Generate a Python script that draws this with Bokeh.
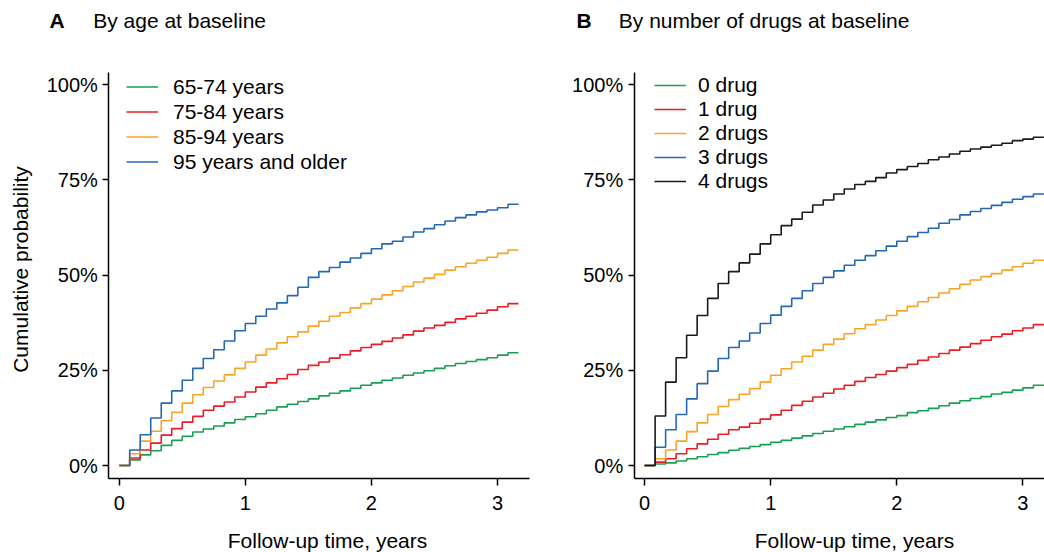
import math
from bokeh.plotting import figure
from bokeh.models import Range1d, FixedTicker, PrintfTickFormatter, Legend, LegendItem, Label
from bokeh.layouts import row
from bokeh.embed import file_html
from bokeh.resources import INLINE
from bokeh.core.properties import value

# ---------------- data (cumulative probability, %) ----------------
months = [0, 1, 2, 3, 4, 5, 6, 7, 8, 9, 10, 11, 12, 13, 14, 15, 16, 17, 18, 19,
          20, 21, 22, 23, 24, 25, 26, 27, 28, 29, 30, 31, 32, 33, 34, 35, 36, 37, 38]

age_groups = ["65-74 years", "75-84 years", "85-94 years", "95 years and older"]
age_65_74 = [0, 1.5, 2.8, 3.9, 5.3, 6.6, 7.7, 8.8, 9.6, 10.4, 11.2, 12.1, 12.8, 13.6, 14.5,
             15.4, 16.1, 16.8, 17.5, 18.3, 19.0, 19.6, 20.3, 21.1, 21.7, 22.4, 23.0, 23.7,
             24.3, 24.9, 25.5, 26.2, 26.8, 27.3, 27.8, 28.3, 29.0, 29.6]
age_75_84 = [0, 2.0, 4.1, 5.9, 8.0, 9.7, 11.4, 12.9, 14.5, 15.6, 16.7, 18.0, 19.3, 20.6, 21.7,
             22.8, 23.9, 25.2, 26.3, 27.2, 28.2, 29.1, 30.1, 31.0, 31.8, 32.6, 33.5, 34.3,
             35.3, 36.1, 36.8, 37.6, 38.5, 39.2, 40.0, 40.8, 41.7, 42.5]
age_85_94 = [0, 3.1, 6.4, 9.0, 11.8, 14.0, 16.4, 18.6, 20.5, 22.2, 23.8, 25.5, 27.2, 29.0, 30.6,
             32.2, 33.8, 35.1, 36.6, 37.9, 39.2, 40.2, 41.4, 42.5, 43.7, 44.8, 45.9, 47.0,
             48.2, 49.2, 50.2, 51.3, 52.2, 53.1, 53.9, 54.7, 55.7, 56.6]
age_95_up = [0, 4.1, 8.1, 12.5, 16.4, 19.6, 22.4, 25.5, 28.1, 30.4, 32.7, 35.4, 37.3, 39.2, 41.1,
             42.7, 44.6, 46.8, 49.4, 50.9, 52.0, 53.4, 54.5, 55.7, 56.9, 58.2, 58.9, 60.0,
             61.3, 62.2, 63.2, 64.2, 65.1, 65.8, 66.6, 67.1, 67.7, 68.6]

drug_groups = ["0 drug", "1 drug", "2 drugs", "3 drugs", "4 drugs"]
drugs_0 = [0, 0.4, 0.7, 1.2, 1.8, 2.3, 2.9, 3.4, 4.0, 4.5, 5.0, 5.5, 6.1, 6.6, 7.2, 7.8, 8.4,
           9.0, 9.6, 10.2, 10.8, 11.4, 12.0, 12.6, 13.1, 13.9, 14.4, 15.0, 15.7, 16.4, 17.0,
           17.6, 18.1, 18.8, 19.2, 19.8, 20.4, 21.1]
drugs_1 = [0, 0.9, 1.8, 3.1, 4.4, 5.7, 6.9, 8.2, 9.4, 10.1, 11.1, 12.2, 13.3, 14.5, 15.8, 16.9,
           18.0, 19.0, 20.1, 21.1, 22.1, 23.1, 23.9, 24.8, 25.7, 26.6, 27.6, 28.5, 29.4, 30.3,
           31.1, 32.0, 32.9, 33.8, 34.5, 35.4, 36.1, 37.0]
drugs_2 = [0, 1.8, 4.1, 6.4, 8.9, 11.2, 13.4, 15.5, 17.3, 18.7, 20.2, 21.9, 23.7, 25.4, 27.2,
           28.7, 30.3, 31.8, 33.2, 34.6, 35.9, 37.0, 38.2, 39.4, 40.6, 41.8, 43.0, 44.1, 45.3,
           46.4, 47.6, 48.7, 49.6, 50.4, 51.3, 52.2, 53.1, 53.9]
drugs_3 = [0, 4.8, 9.4, 13.4, 17.5, 21.5, 24.8, 28.1, 31.0, 32.7, 34.8, 37.3, 39.5, 41.8, 43.9,
           45.9, 47.8, 49.4, 51.1, 52.6, 53.9, 55.1, 56.4, 57.6, 58.9, 60.1, 61.2, 62.3, 63.6,
           64.6, 65.8, 66.7, 67.5, 68.3, 69.1, 69.9, 70.6, 71.3]
drugs_4 = [0, 13.0, 21.9, 28.3, 34.2, 39.4, 43.9, 47.8, 50.9, 53.2, 55.5, 58.2, 60.6, 63.0, 64.7,
           66.5, 68.4, 69.7, 71.3, 72.6, 73.8, 74.6, 75.6, 76.8, 77.7, 78.5, 79.3, 80.3, 81.0,
           81.8, 82.5, 83.1, 83.6, 84.1, 84.6, 85.3, 85.7, 86.2]

x_ticks = [0, 1, 2, 3]
y_ticks = [0, 25, 50, 75, 100]

# ---------------- styling / geometry ----------------
FONT = "Liberation Sans"
COLORS = ["#1a9e4f", "#ec1c24", "#f7a428", "#2468b4", "#1a1a1a"]
PX_PER_YEAR = 126.1      # horizontal scale
PX_PER_PCT = 3.809       # vertical scale
ZERO_PY = 465.05         # page y of 0 %
AX_X = -0.0825           # data x where the y axis sits
AX_Y0, AX_Y1 = -3.4, 103.2   # extent of the y axis line
H = 552
TEXT_SHIFT = 8.5         # label anchor correction (px)

years = [m / 12 for m in months]


def ydat(py):
    return (ZERO_PY - py) / PX_PER_PCT


def make_fig(canvas_left, canvas_w, axis_px, x_axis_end_px):
    def xdat(px):
        return AX_X + (px - axis_px) / PX_PER_YEAR

    p = figure(frame_width=canvas_w, frame_height=H,
               x_range=Range1d(xdat(canvas_left), xdat(canvas_left + canvas_w)),
               y_range=Range1d(ydat(H), ydat(0)),
               output_backend="svg", toolbar_location=None, title=None,
               min_border_left=0, min_border_right=0,
               min_border_top=0, min_border_bottom=0)
    p.outline_line_color = None
    p.xgrid.visible = False
    p.ygrid.visible = False
    p.background_fill_color = "white"
    p.border_fill_color = "white"
    for ax in (p.xaxis[0], p.yaxis[0]):
        ax.axis_line_width = 1.5
        ax.axis_line_color = "black"
        ax.major_tick_line_width = 1.5
        ax.major_tick_line_color = "black"
        ax.major_tick_in = 0
        ax.minor_tick_line_color = None
        ax.major_label_text_font = FONT
        ax.major_label_text_font_size = "20px"
        ax.major_label_text_color = "black"
    p.xaxis.fixed_location = AX_Y0
    p.xaxis.bounds = (AX_X, xdat(x_axis_end_px))
    p.yaxis.fixed_location = AX_X
    p.yaxis.bounds = (AX_Y0, AX_Y1)
    p.xaxis.major_tick_out = 7
    p.yaxis.major_tick_out = 6
    p.xaxis.ticker = FixedTicker(ticks=x_ticks)
    p.yaxis.ticker = FixedTicker(ticks=y_ticks)
    p.yaxis.formatter = PrintfTickFormatter(format="%d%%")
    p.xaxis.major_label_standoff = 10
    p.yaxis.major_label_standoff = 5
    return p, xdat


def add_series(p, names, series, colors):
    items = []
    for name, vals, color in zip(names, series, colors):
        ys = vals + [vals[-1]]
        r = p.step(x=years, y=ys, mode="after", line_color=color, line_width=1.6)
        items.append(LegendItem(label=value(name), renderers=[r]))
    return items


def add_legend(p, items, x, y, row_h, standoff):
    leg = Legend(items=items, location=(x, y), orientation="vertical",
                 glyph_width=32, glyph_height=row_h, label_height=row_h,
                 spacing=0, padding=0, margin=0, label_standoff=standoff,
                 border_line_color=None, background_fill_alpha=0,
                 label_text_font=FONT, label_text_font_size="21px",
                 label_text_color="black")
    p.add_layout(leg, "center")


def text(p, x, y, s, bold=False, align="left", angle=0.0):
    p.add_layout(Label(x=x, y=y, text=s, angle=angle,
                       text_font=FONT, text_font_size="21px",
                       text_font_style="bold" if bold else "normal",
                       text_align=align, text_baseline="alphabetic",
                       text_color="black"))


TITLE_BASE = 28.3 - TEXT_SHIFT
XLABEL_BASE = 548.5 - TEXT_SHIFT

# Panel A
pa, xa = make_fig(0, 560, 108.3, 529)
items_a = add_series(pa, age_groups, [age_65_74, age_75_84, age_85_94, age_95_up], COLORS[:4])
add_legend(pa, items_a, 126, H - 174, 25, 15)
text(pa, xa(49), ydat(TITLE_BASE), "A", bold=True)
text(pa, xa(92.7), ydat(TITLE_BASE), "By age at baseline")
text(pa, xa(327), ydat(XLABEL_BASE), "Follow-up time, years", align="center")
text(pa, xa(28 - TEXT_SHIFT), ydat(269), "Cumulative probability", align="center",
     angle=math.pi / 2)

# Panel B
pb, xb = make_fig(560, 484, 633.7, 1044)
items_b = add_series(pb, drug_groups, [drugs_0, drugs_1, drugs_2, drugs_3, drugs_4], COLORS)
add_legend(pb, items_b, 94, H - 193, 24, 12)
text(pb, xb(576), ydat(TITLE_BASE), "B", bold=True)
text(pb, xb(618.3), ydat(TITLE_BASE), "By number of drugs at baseline")
text(pb, xb(854), ydat(XLABEL_BASE), "Follow-up time, years", align="center")

layout = row(pa, pb)
open("out.html", "w").write(file_html(layout, INLINE))
